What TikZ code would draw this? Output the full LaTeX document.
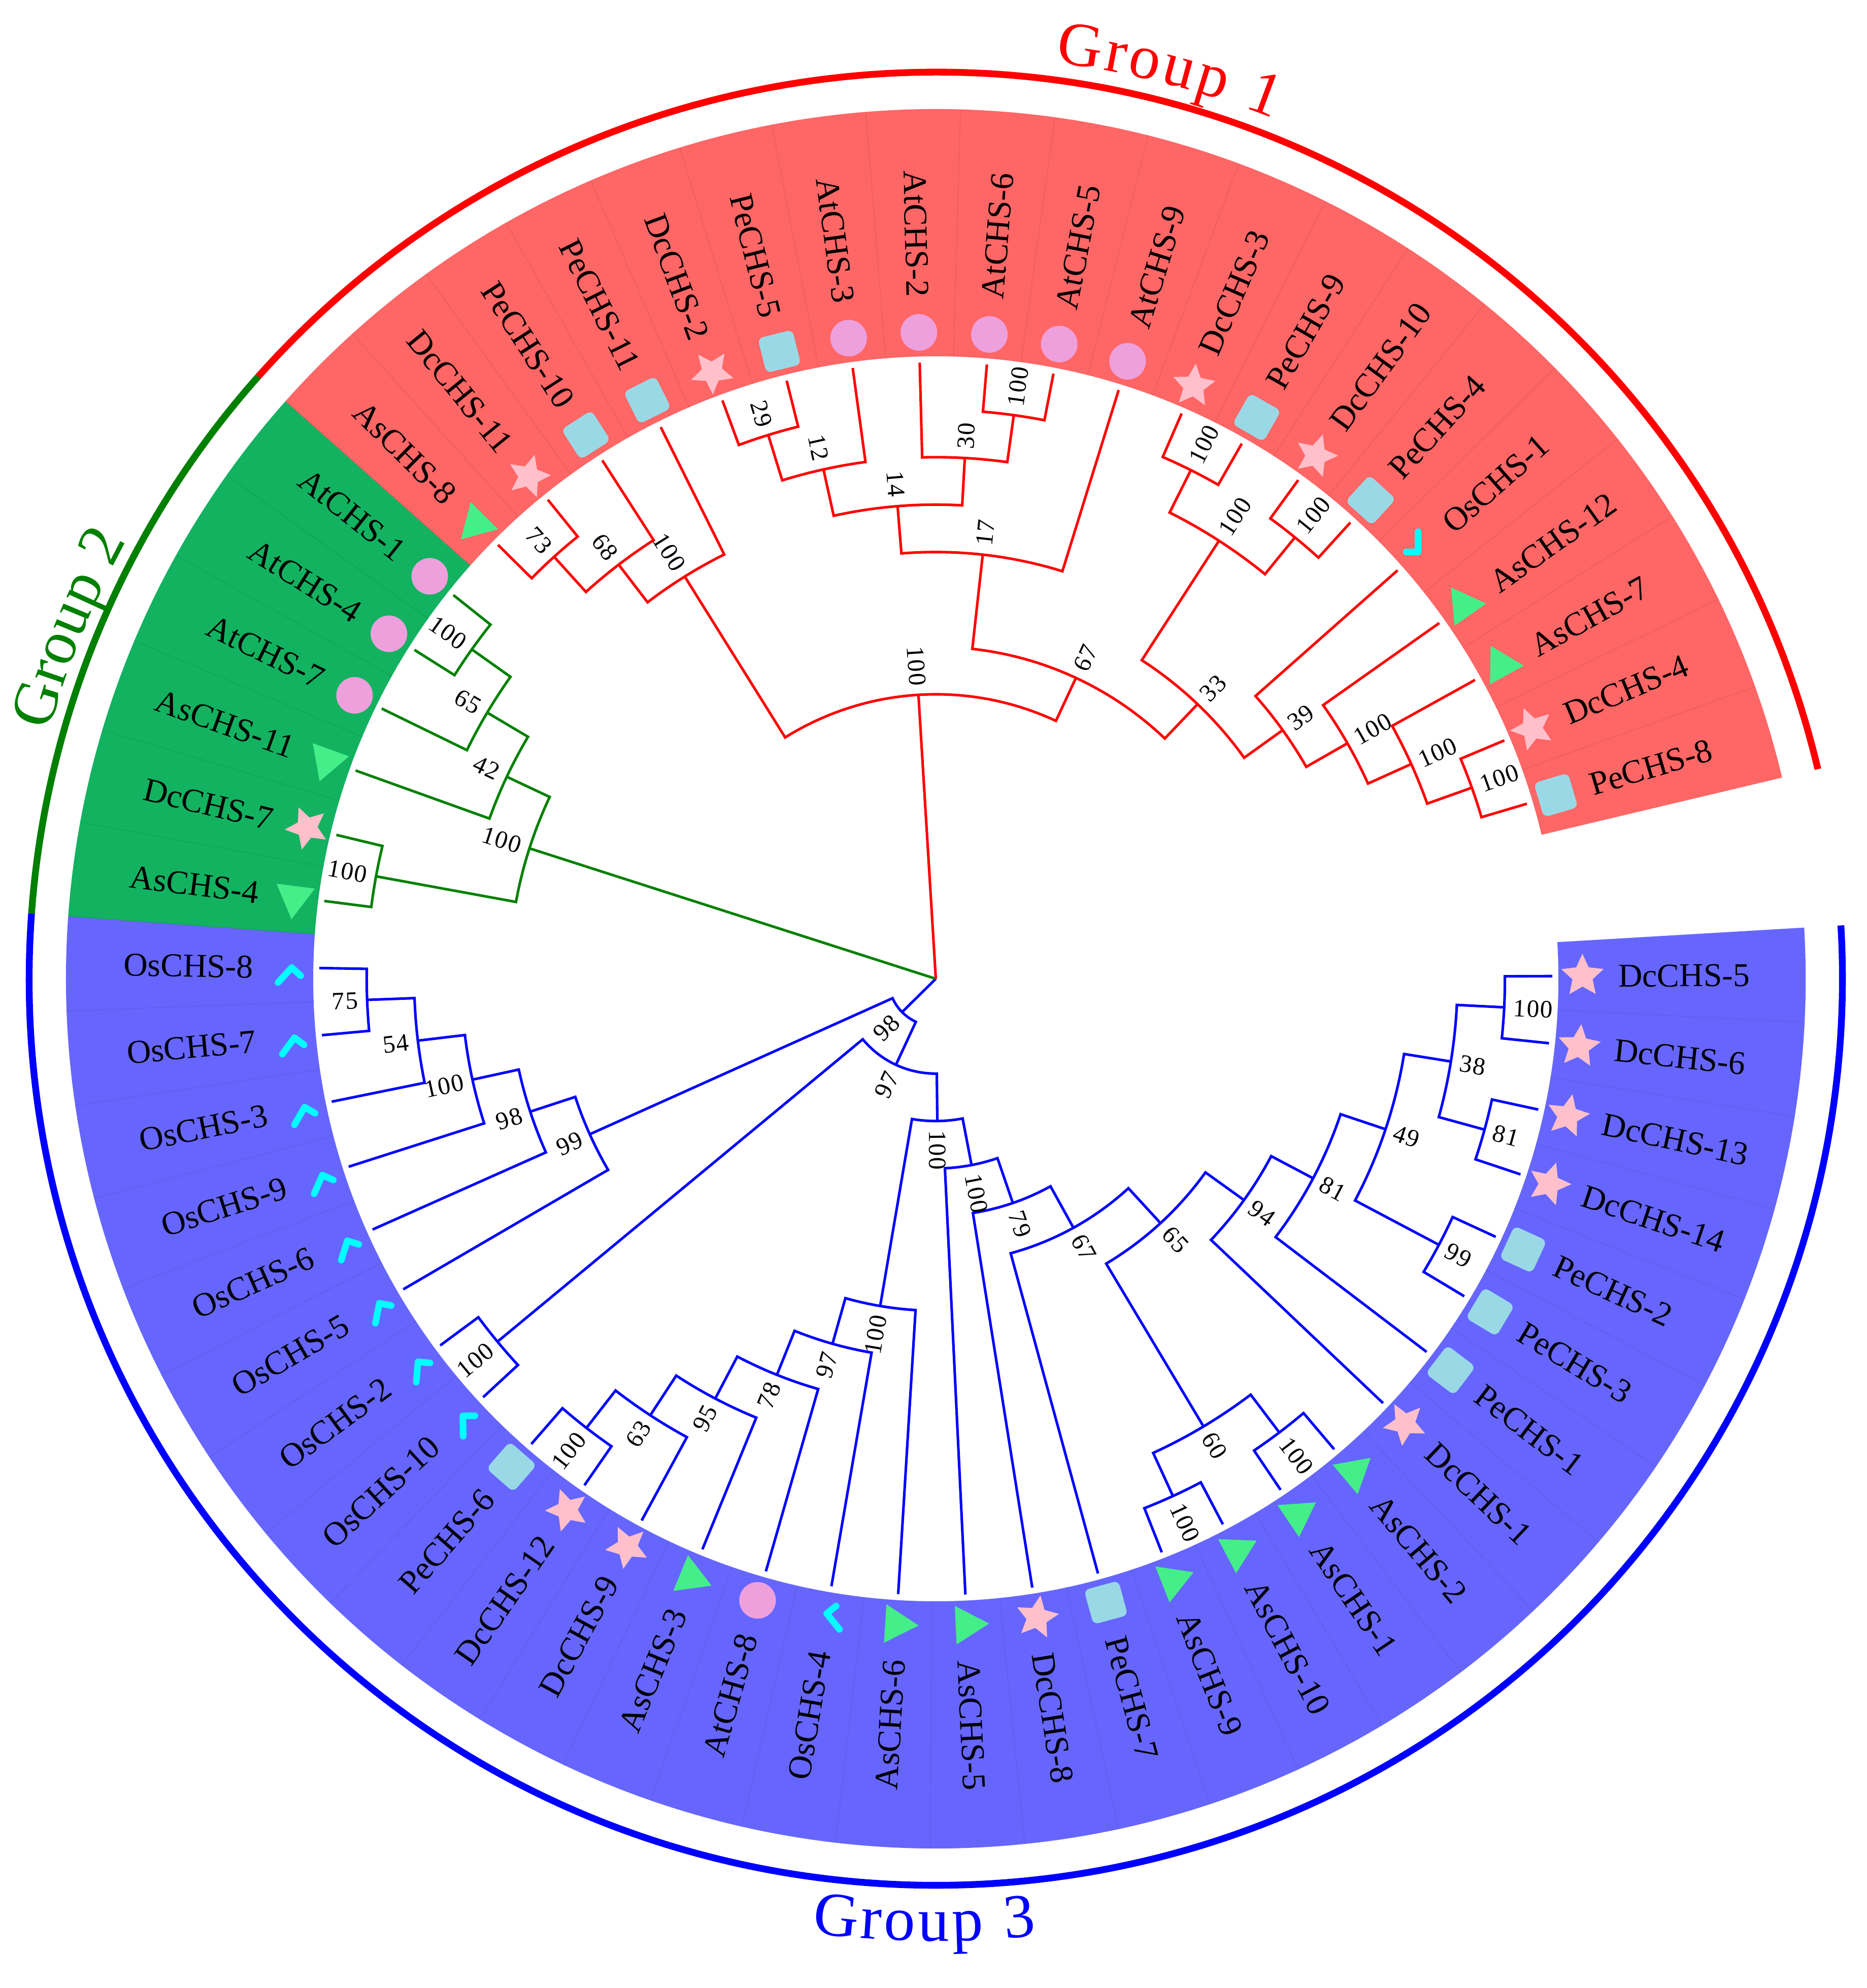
\documentclass[tikz,border=0pt]{standalone}
\usepackage{fontspec}
\setmainfont{Liberation Serif}
\usetikzlibrary{shapes.geometric,decorations.text}

\definecolor{bandred}{RGB}{255,102,102}
\definecolor{bandgreen}{RGB}{18,178,96}
\definecolor{bandblue}{RGB}{102,102,255}
\definecolor{treegreen}{RGB}{0,128,0}
\definecolor{starpink}{RGB}{255,192,203}
\definecolor{sqblue}{RGB}{153,217,230}
\definecolor{atpink}{RGB}{238,160,221}
\definecolor{trigreen}{RGB}{68,238,136}
\definecolor{chkcyan}{RGB}{0,255,255}

% one clade: stem of child a, arc at the node radius, stem of child b
\newcommand{\clade}[5]{\draw (#2:#3) -- (#2:#1) arc[start angle=#2, end angle=#4, radius=#1] -- (#4:#5);}
% bootstrap value at a node (angle, radius, value)
\newcommand{\bsv}[3]{%
  \pgfmathtruncatemacro{\bsside}{cos(#1)>0}%
  \pgfmathsetmacro{\bsrad}{#2+7}%
  \ifnum\bsside=1
    \node[bsval, anchor=west, rotate=#1] at (#1:\bsrad) {#3};
  \else
    \pgfmathsetmacro{\bsrot}{#1-180}%
    \node[bsval, anchor=east, rotate=\bsrot] at (#1:\bsrad) {#3};
  \fi}
\newcommand{\grpfont}{\fontsize{35}{40}\selectfont}

\begin{document}
\begin{tikzpicture}[x=0.025cm, y=0.025cm,
  tree/.style={line width=1.45pt},
  leaf/.style={font=\fontsize{18.7}{20}\selectfont, inner sep=0pt, text height=12.4pt, text depth=0pt},
  bsval/.style={font=\fontsize{14}{15}\selectfont\addfontfeature{LetterSpace=4}, inner sep=0pt, text height=9.5pt, text depth=0pt},
  mkstar/.style={star, star points=5, star point ratio=2.1, minimum size=25pt, inner sep=0pt, fill=starpink},
  mksq/.style={rectangle, rounded corners=3pt, minimum size=20pt, inner sep=0pt, fill=sqblue},
  mkcirc/.style={circle, minimum size=20.5pt, inner sep=0pt, fill=atpink},
  mktri/.style={regular polygon, regular polygon sides=3, minimum size=25pt, inner sep=0pt, fill=trigreen},
  oschk/.style={draw=chkcyan, line width=3.7pt, line cap=round, line join=round},
  ring/.style={line width=3.8pt}]

\useasboundingbox (-738,-796) rectangle (734,772);
\fill[white] (-738,-796) rectangle (734,772);

% coloured bands, one segment per leaf
\foreach \i in {0,...,55}{
  \pgfmathsetmacro{\aa}{3.375-6.25*\i}
  \pgfmathsetmacro{\ab}{\aa-6.25}
  \ifnum\i<30 \def\bandc{bandblue}\else\ifnum\i<36 \def\bandc{bandgreen}\else\def\bandc{bandred}\fi\fi
  \fill[\bandc] (\aa:491) arc[start angle=\aa, end angle=\ab, radius=491] -- (\ab:686) arc[start angle=\ab, end angle=\aa, radius=686] -- cycle;
}
\foreach \i in {1,...,55}{
  \pgfmathsetmacro{\aa}{3.375-6.25*\i}
  \ifnum\i<30 \def\bandc{bandblue}\else\ifnum\i<36 \def\bandc{bandgreen}\else\def\bandc{bandred}\fi\fi
  \draw[\bandc!90!black, line width=0.3pt] (\aa:491) -- (\aa:686);
}

% markers
\foreach \i in {0,1,2,3,7,13,19,20,31,37,40,47,49,54}{
  \pgfmathsetmacro{\ang}{0.25-6.25*\i}
  \node[mkstar, rotate=\ang] (mk\i) at (\ang:510) {};
}
\foreach \i in {4,5,6,12,21,38,39,41,48,50,55}{
  \pgfmathsetmacro{\ang}{0.25-6.25*\i}
  \node[mksq, rotate=\ang] (mk\i) at (\ang:510) {};
}
\foreach \i in {8,9,10,11,14,15,18,30,32,36,52,53}{
  \pgfmathsetmacro{\ang}{0.25-6.25*\i}
  \node[mktri, rotate=\ang] (mk\i) at (\ang:510) {};
}
\foreach \i in {17,33,34,35,42,43,44,45,46}{
  \pgfmathsetmacro{\ang}{0.25-6.25*\i}
  \node[mkcirc] (mk\i) at (\ang:510) {};
}
\foreach \i in {16,22,23,24,25,26,27,28,29,51}{
  \pgfmathsetmacro{\ang}{0.25-6.25*\i}
  \draw[oschk] (\ang:508) ++({\ang+138.5}:9.5) -- (\ang:508) -- ++({\ang+48.5}:16);
}

% leaf labels
\foreach \nm [count=\i from 0] in {DcCHS-5, DcCHS-6, DcCHS-13, DcCHS-14, PeCHS-2, PeCHS-3, PeCHS-1,
    DcCHS-1, AsCHS-2, AsCHS-1, AsCHS-10, AsCHS-9, PeCHS-7, DcCHS-8, AsCHS-5, AsCHS-6, OsCHS-4,
    AtCHS-8, AsCHS-3, DcCHS-9, DcCHS-12, PeCHS-6, OsCHS-10, OsCHS-2, OsCHS-5, OsCHS-6, OsCHS-9,
    OsCHS-3, OsCHS-7, OsCHS-8, AsCHS-4, DcCHS-7, AsCHS-11, AtCHS-7, AtCHS-4, AtCHS-1, AsCHS-8,
    DcCHS-11, PeCHS-10, PeCHS-11, DcCHS-2, PeCHS-5, AtCHS-3, AtCHS-2, AtCHS-6, AtCHS-5, AtCHS-9,
    DcCHS-3, PeCHS-9, DcCHS-10, PeCHS-4, OsCHS-1, AsCHS-12, AsCHS-7, DcCHS-4, PeCHS-8}{
  \pgfmathsetmacro{\ang}{0.25-6.25*\i}
  \pgfmathtruncatemacro{\side}{cos(\ang)>0}
  \ifnum\side=1
    \node[leaf, anchor=west, rotate=\ang] (lf\i) at (\ang:538) {\nm};
  \else
    \pgfmathsetmacro{\rot}{\ang+180}
    \node[leaf, anchor=east, rotate=\rot] (lf\i) at (\ang:538) {\nm};
  \fi
}

% group 3
\begin{scope}[tree, blue]
\clade{448.8}{0.25}{486.2}{-6}{486.2}
\clade{448.8}{-12.25}{486.2}{-18.5}{486.2}
\clade{411.4}{-2.875}{448.8}{-15.375}{448.8}
\clade{448.8}{-24.75}{486.2}{-31}{486.2}
\clade{374}{-9.125}{411.4}{-27.875}{448.8}
\clade{336.6}{-18.5}{374}{-37.25}{486.2}
\clade{299.2}{-27.875}{336.6}{-43.5}{486.2}
\clade{448.8}{-49.75}{486.2}{-56}{486.2}
\clade{448.8}{-62.25}{486.2}{-68.5}{486.2}
\clade{411.4}{-52.875}{448.8}{-65.375}{448.8}
\clade{261.8}{-35.6875}{299.2}{-59.125}{411.4}
\clade{224.4}{-47.406}{261.8}{-74.75}{486.2}
\clade{187}{-61.078}{224.4}{-81}{486.2}
\clade{149.6}{-71.039}{187}{-87.25}{486.2}
\clade{448.8}{-124.75}{486.2}{-131}{486.2}
\clade{411.4}{-118.5}{486.2}{-127.875}{448.8}
\clade{374}{-112.25}{486.2}{-123.1875}{411.4}
\clade{336.6}{-106}{486.2}{-117.719}{374}
\clade{299.2}{-99.75}{486.2}{-111.859}{336.6}
\clade{261.8}{-93.5}{486.2}{-105.805}{299.2}
\clade{112.2}{-79.145}{149.6}{-99.652}{261.8}
\clade{448.8}{-137.25}{486.2}{-143.5}{486.2}
\clade{74.8}{-89.399}{112.2}{-140.375}{448.8}
\clade{448.8}{-174.75}{486.2}{-181}{486.2}
\clade{411.4}{-168.5}{486.2}{-177.875}{448.8}
\clade{374}{-162.25}{486.2}{-173.1875}{411.4}
\clade{336.6}{-156}{486.2}{-167.719}{374}
\clade{299.2}{-149.75}{486.2}{-161.859}{336.6}
\clade{37.4}{-114.887}{74.8}{-155.805}{299.2}
\draw (0,0) -- (-135.346:37.4);
\end{scope}

% group 2
\begin{scope}[tree, treegreen]
\clade{448.8}{147.75}{486.2}{141.5}{486.2}
\clade{411.4}{154}{486.2}{144.625}{448.8}
\clade{374}{160.25}{486.2}{149.3125}{411.4}
\clade{448.8}{172.75}{486.2}{166.5}{486.2}
\clade{336.6}{169.625}{448.8}{154.781}{374}
\draw (0,0) -- (162.2:336.6);
\end{scope}

% group 1
\begin{scope}[tree, red]
\clade{448.8}{135.25}{486.2}{129}{486.2}
\clade{411.4}{132.125}{448.8}{122.75}{486.2}
\clade{374}{127.4375}{411.4}{116.5}{486.2}
\clade{448.8}{110.25}{486.2}{104}{486.2}
\clade{411.4}{107.125}{448.8}{97.75}{486.2}
\clade{448.8}{85.25}{486.2}{79}{486.2}
\clade{411.4}{91.5}{486.2}{82.125}{448.8}
\clade{374}{102.4375}{411.4}{86.8125}{411.4}
\clade{336.6}{94.625}{374}{72.75}{486.2}
\clade{448.8}{66.5}{486.2}{60.25}{486.2}
\clade{448.8}{54}{486.2}{47.75}{486.2}
\clade{411.4}{63.375}{448.8}{50.875}{448.8}
\clade{448.8}{22.75}{486.2}{16.5}{486.2}
\clade{411.4}{29}{486.2}{19.625}{448.8}
\clade{374}{35.25}{486.2}{24.3125}{411.4}
\clade{336.6}{41.5}{486.2}{29.781}{374}
\clade{299.2}{57.125}{411.4}{35.641}{336.6}
\clade{261.8}{83.6875}{336.6}{46.383}{299.2}
\clade{224.4}{121.969}{374}{65.035}{261.8}
\draw (0,0) -- (93.502:224.4);
\end{scope}

% bootstrap values
\bsv{-2.875}{448.8}{100}
\bsv{-15.375}{448.8}{81}
\bsv{-9.125}{411.4}{38}
\bsv{-27.875}{448.8}{99}
\bsv{-18.5}{374}{49}
\bsv{-27.875}{336.6}{81}
\bsv{-35.6875}{299.2}{94}
\bsv{-52.875}{448.8}{100}
\bsv{-65.375}{448.8}{100}
\bsv{-59.125}{411.4}{60}
\bsv{-47.406}{261.8}{65}
\bsv{-61.078}{224.4}{67}
\bsv{-71.039}{187}{79}
\bsv{-79.145}{149.6}{100}
\bsv{-127.875}{448.8}{100}
\bsv{-123.1875}{411.4}{63}
\bsv{-117.719}{374}{95}
\bsv{-111.859}{336.6}{78}
\bsv{-105.805}{299.2}{97}
\bsv{-99.652}{261.8}{100}
\bsv{-89.399}{112.2}{100}
\bsv{-140.375}{448.8}{100}
\bsv{-114.887}{74.8}{97}
\bsv{-177.875}{448.8}{75}
\bsv{-173.1875}{411.4}{54}
\bsv{-167.719}{374}{100}
\bsv{-161.859}{336.6}{98}
\bsv{-155.805}{299.2}{99}
\bsv{-135.346}{37.4}{98}
\bsv{144.625}{448.8}{100}
\bsv{149.3125}{411.4}{65}
\bsv{154.781}{374}{42}
\bsv{169.625}{448.8}{100}
\bsv{162.2}{336.6}{100}
\bsv{132.125}{448.8}{73}
\bsv{127.4375}{411.4}{68}
\bsv{121.969}{374}{100}
\bsv{107.125}{448.8}{29}
\bsv{102.4375}{411.4}{12}
\bsv{82.125}{448.8}{100}
\bsv{86.8125}{411.4}{30}
\bsv{94.625}{374}{14}
\bsv{83.6875}{336.6}{17}
\bsv{63.375}{448.8}{100}
\bsv{50.875}{448.8}{100}
\bsv{57.125}{411.4}{100}
\bsv{19.625}{448.8}{100}
\bsv{24.3125}{411.4}{100}
\bsv{29.781}{374}{100}
\bsv{35.641}{336.6}{39}
\bsv{46.383}{299.2}{33}
\bsv{65.035}{261.8}{67}
\bsv{93.502}{224.4}{100}

% group rings and titles
\draw[ring, red] (13.375:715) arc[start angle=13.375, end angle=138.375, radius=715];
\draw[ring, treegreen] (138.375:715) arc[start angle=138.375, end angle=175.875, radius=715];
\draw[ring, blue] (175.875:715) arc[start angle=175.875, end angle=363.375, radius=715];

\path[decorate, decoration={text along path, text={|\grpfont\color{red}|Group 1}, text align={fit to path}}]
  (82.6:729) arc[start angle=82.6, end angle=68.6, radius=729];
\path[decorate, decoration={text along path, text={|\grpfont\color{treegreen}|Group 2}, text align={fit to path}}]
  (164.4:726) arc[start angle=164.4, end angle=151.6, radius=726];
\path[decorate, decoration={text along path, text={|\grpfont\color{blue}|Group 3}, text align={fit to path}}]
  (-97.4:759) arc[start angle=-97.4, end angle=-84.0, radius=759];
\end{tikzpicture}
\end{document}
